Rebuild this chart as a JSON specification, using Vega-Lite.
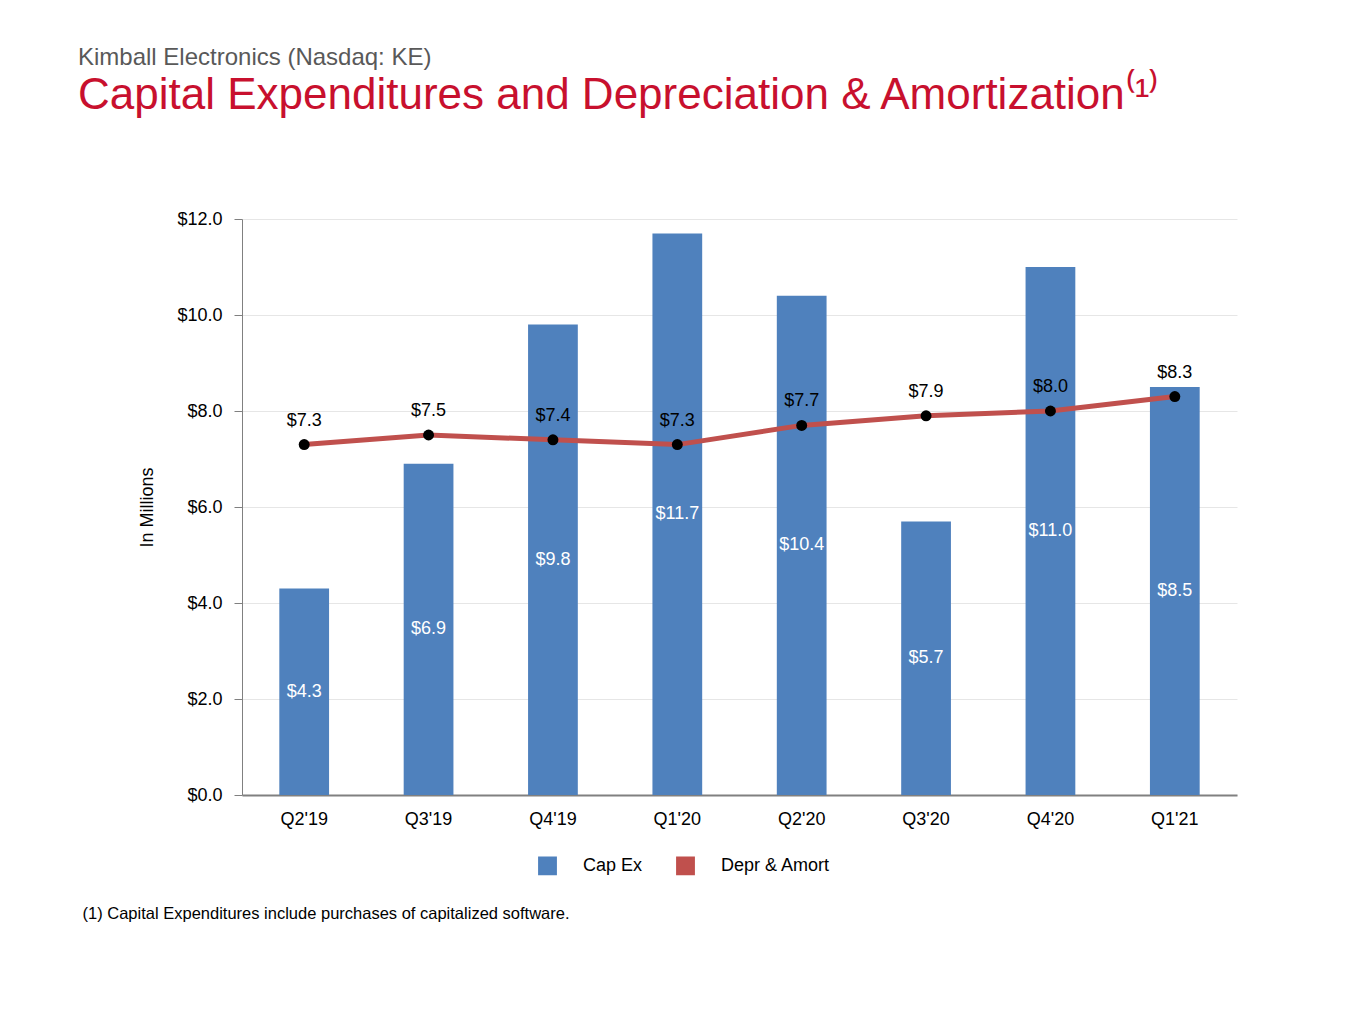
{
  "$schema": "https://vega.github.io/schema/vega-lite/v6.json",
  "width": 995,
  "height": 576,
  "autosize": "none",
  "padding": {"left": 242, "top": 219, "right": 128, "bottom": 229},
  "background": "white",
  "config": {"font": "Liberation Sans", "view": {"stroke": null}},
  "title": {
    "text": "Kimball Electronics (Nasdaq: KE)",
    "subtitle": "Capital Expenditures and Depreciation & Amortization⁽¹⁾",
    "anchor": "start",
    "frame": "group",
    "dx": -164,
    "offset": 92,
    "fontSize": 24,
    "fontWeight": "normal",
    "color": "#595959",
    "subtitleFontSize": 44,
    "subtitleColor": "#C8102E",
    "subtitlePadding": 4
  },
  "data": {"values": [
    {"q": "Q2'19", "capex": 4.3, "da": 7.3},
    {"q": "Q3'19", "capex": 6.9, "da": 7.5},
    {"q": "Q4'19", "capex": 9.8, "da": 7.4},
    {"q": "Q1'20", "capex": 11.7, "da": 7.3},
    {"q": "Q2'20", "capex": 10.4, "da": 7.7},
    {"q": "Q3'20", "capex": 5.7, "da": 7.9},
    {"q": "Q4'20", "capex": 11.0, "da": 8.0},
    {"q": "Q1'21", "capex": 8.5, "da": 8.3}
  ]},
  "encoding": {
    "x": {"field": "q", "type": "nominal", "sort": null,
      "scale": {"paddingInner": 0.6, "paddingOuter": 0.3},
      "axis": {"labelAngle": 0, "labelFontSize": 18, "labelColor": "#000", "labelPadding": 15,
        "ticks": false, "domainColor": "#808080", "domainWidth": 2,
        "title": "(1)  Capital Expenditures include purchases of capitalized software.",
        "titleFontSize": 16.5, "titleFontWeight": "normal", "titleAnchor": "start", "titleX": -160, "titleY": 110}}
  },
  "layer": [
    {
      "mark": {"type": "bar"},
      "encoding": {
        "y": {"field": "capex", "type": "quantitative",
          "scale": {"domain": [0, 12]},
          "axis": {"values": [0, 2, 4, 6, 8, 10, 12], "format": "$.1f", "labelFontSize": 18, "labelColor": "#000",
            "gridColor": "#E6E6E6", "domainColor": "#808080", "tickColor": "#808080", "tickSize": 8, "labelPadding": 12,
            "title": "In Millions", "titleFontSize": 18, "titleFontWeight": "normal", "titlePadding": 20}},
        "color": {"datum": "Cap Ex", "type": "nominal",
          "scale": {"domain": ["Cap Ex", "Depr & Amort"], "range": ["#4F81BD", "#C0504D"]},
          "legend": {"orient": "none", "legendX": 296, "legendY": 637, "title": null, "direction": "horizontal", "labelFontSize": 18,
            "symbolType": "square", "symbolSize": 300, "columnPadding": 30, "labelOffset": 26}}
      }
    },
    {
      "transform": [{"calculate": "datum.capex / 2", "as": "mid"}],
      "mark": {"type": "text", "color": "white", "fontSize": 18},
      "encoding": {
        "y": {"field": "mid", "type": "quantitative"},
        "text": {"field": "capex", "type": "quantitative", "format": "$.1f"}
      }
    },
    {
      "mark": {"type": "line", "color": "#C0504D", "strokeWidth": 5},
      "encoding": {"y": {"field": "da", "type": "quantitative"},
        "color": {"datum": "Depr & Amort", "type": "nominal"}}
    },
    {
      "mark": {"type": "point", "filled": true, "color": "black", "opacity": 1, "size": 120},
      "encoding": {"y": {"field": "da", "type": "quantitative"}}
    },
    {
      "mark": {"type": "text", "fontSize": 18, "dy": -24, "color": "#000"},
      "encoding": {"y": {"field": "da", "type": "quantitative"},
        "text": {"field": "da", "type": "quantitative", "format": "$.1f"}}
    }
  ]
}
